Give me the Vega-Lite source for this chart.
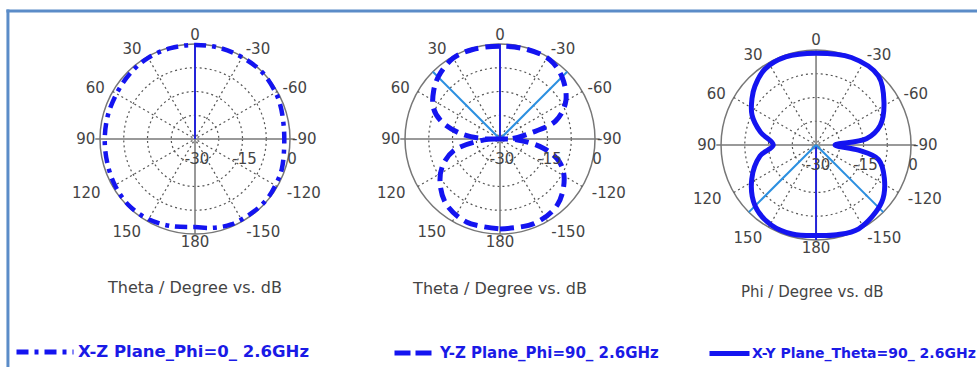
{
  "$schema": "https://vega.github.io/schema/vega-lite/v6.json",
  "background": "white",
  "padding": {"left": 4, "top": 7, "right": 0, "bottom": 0},
  "autosize": {"type": "pad"},
  "bounds": "flush",
  "spacing": 81,
  "datasets": {
    "rings": [{"r": 0.25}, {"r": 0.5}, {"r": 0.75}],
    "outer": [{"r": 1}],
    "spokes": [{"ang": 30}, {"ang": 60}, {"ang": 120}, {"ang": 150}, {"ang": -30}, {"ang": -60}, {"ang": -120}, {"ang": -150}],
    "rays1": [{"ang": 90, "len": 1.05, "kind": "axis"}, {"ang": -90, "len": 1.05, "kind": "axis"}, {"ang": 180, "len": 1, "kind": "axis"}, {"ang": 0, "len": 1, "kind": "main"}],
    "rays2": [{"ang": 90, "len": 1.05, "kind": "axis"}, {"ang": -90, "len": 1.05, "kind": "axis"}, {"ang": 180, "len": 1, "kind": "axis"}, {"ang": 0, "len": 1, "kind": "main"}, {"ang": 45, "len": 1, "kind": "beam"}, {"ang": -45, "len": 1, "kind": "beam"}],
    "rays3": [{"ang": 90, "len": 1.05, "kind": "axis"}, {"ang": -90, "len": 1.05, "kind": "axis"}, {"ang": 0, "len": 1, "kind": "axis"}, {"ang": 180, "len": 1, "kind": "main"}, {"ang": 135, "len": 1, "kind": "beam"}, {"ang": -135, "len": 1, "kind": "beam"}],
    "alabels": [
      {"ang": 0, "t": "0"}, {"ang": 30, "t": "30"}, {"ang": 60, "t": "60"}, {"ang": 90, "t": "90"},
      {"ang": 120, "t": "120"}, {"ang": 150, "t": "150"}, {"ang": 180, "t": "180"},
      {"ang": -30, "t": "-30"}, {"ang": -60, "t": "-60"}, {"ang": -90, "t": "-90"},
      {"ang": -120, "t": "-120"}, {"ang": -150, "t": "-150"}
    ],
    "rlabels": [{"db": -30, "t": "-30"}, {"db": -15, "t": "-15"}, {"db": 0, "t": "0"}],
    "xz": [
      {"ang": -180, "db": -2.2}, {"ang": -170, "db": -1.5}, {"ang": -157, "db": -0.7}, {"ang": -140, "db": -0.5},
      {"ang": -130, "db": -0.4}, {"ang": -120, "db": -0.7}, {"ang": -109, "db": -1.0}, {"ang": -90, "db": -1.8},
      {"ang": -75, "db": -1.4}, {"ang": -68, "db": -1.0}, {"ang": -60, "db": -0.6}, {"ang": -45, "db": -0.1},
      {"ang": -30, "db": -0.2}, {"ang": -15, "db": -0.2}, {"ang": 0, "db": -0.3}, {"ang": 15, "db": -0.3},
      {"ang": 30, "db": -0.4}, {"ang": 45, "db": -0.9}, {"ang": 60, "db": -1.4}, {"ang": 75, "db": -1.5},
      {"ang": 90, "db": -1.5}, {"ang": 105, "db": -1.3}, {"ang": 120, "db": -0.8}, {"ang": 135, "db": -0.4},
      {"ang": 150, "db": -0.7}, {"ang": 165, "db": -1.5}, {"ang": 180, "db": -2.2}
    ],
    "yz": [
      {"ang": -180, "db": -1.6}, {"ang": -158, "db": -1.2}, {"ang": -139, "db": -2.4}, {"ang": -122, "db": -6.1},
      {"ang": -111, "db": -9.9}, {"ang": -102, "db": -16}, {"ang": -93, "db": -24.4}, {"ang": -90, "db": -30},
      {"ang": -89, "db": -26.5}, {"ang": -79, "db": -20.2}, {"ang": -72, "db": -11.5}, {"ang": -60, "db": -6},
      {"ang": -45, "db": -2.3}, {"ang": -32, "db": -0.45}, {"ang": -17, "db": -0.45}, {"ang": 0, "db": -0.7},
      {"ang": 17, "db": -0.45}, {"ang": 30, "db": -0.5}, {"ang": 44, "db": -2.2}, {"ang": 54, "db": -4.1},
      {"ang": 65, "db": -6.8}, {"ang": 73, "db": -10.5}, {"ang": 82, "db": -17.3}, {"ang": 89, "db": -24.5},
      {"ang": 90, "db": -30}, {"ang": 93, "db": -25}, {"ang": 104, "db": -15}, {"ang": 115, "db": -10},
      {"ang": 126, "db": -6.6}, {"ang": 140, "db": -3.4}, {"ang": 158, "db": -1.7}, {"ang": 180, "db": -1.6}
    ],
    "xy": [
      {"ang": -180, "db": -1.4}, {"ang": -167, "db": -0.9}, {"ang": -153, "db": -0.3}, {"ang": -131, "db": -2.5},
      {"ang": -116, "db": -6}, {"ang": -103, "db": -9.8}, {"ang": -97, "db": -16.5}, {"ang": -90, "db": -24},
      {"ang": -83, "db": -14}, {"ang": -73, "db": -8.8}, {"ang": -58, "db": -4.7}, {"ang": -42, "db": -0.6},
      {"ang": -22, "db": -0.2}, {"ang": 0, "db": -1.0}, {"ang": 19, "db": -0.6}, {"ang": 34, "db": -1.1},
      {"ang": 46, "db": -3.2}, {"ang": 54, "db": -5}, {"ang": 65, "db": -7.7}, {"ang": 77, "db": -12},
      {"ang": 90, "db": -16.5}, {"ang": 101, "db": -12}, {"ang": 118, "db": -7}, {"ang": 135, "db": -2.8},
      {"ang": 151, "db": -1.0}, {"ang": 165, "db": -0.9}, {"ang": 180, "db": -1.4}
    ],
    "one": [{}]
  },
  "hconcat": [
    {
      "width": 228, "height": 228,
      "layer": [
        {"data": {"name": "rings"},
         "mark": {"type": "point", "shape": "circle", "filled": false, "opacity": 1, "stroke": "#555", "strokeWidth": 1.2, "strokeDash": [2, 3]},
         "encoding": {
           "x": {"datum": 0, "type": "quantitative", "scale": {"domain": [-1.2, 1.2], "nice": false, "zero": false}, "axis": null},
           "y": {"datum": 0, "type": "quantitative", "scale": {"domain": [-1.2, 1.2], "nice": false, "zero": false}, "axis": null},
           "size": {"field": "r", "type": "quantitative", "scale": {"type": "pow", "exponent": 2, "domain": [0, 1], "range": [0, 36100], "zero": true, "nice": false}, "legend": null}}},
        {"data": {"name": "outer"},
         "mark": {"type": "point", "shape": "circle", "filled": false, "opacity": 1, "stroke": "#777", "strokeWidth": 1.5},
         "encoding": {
           "x": {"datum": 0, "type": "quantitative", "axis": null},
           "y": {"datum": 0, "type": "quantitative", "axis": null},
           "size": {"field": "r", "type": "quantitative", "scale": {"type": "pow", "exponent": 2, "domain": [0, 1], "range": [0, 36100], "zero": true, "nice": false}, "legend": null}}},
        {"data": {"name": "spokes"},
         "transform": [{"calculate": "-sin(datum.ang*PI/180)", "as": "x"}, {"calculate": "cos(datum.ang*PI/180)", "as": "y"}, {"calculate": "0", "as": "c"}],
         "mark": {"type": "rule", "stroke": "#555", "strokeWidth": 1.2, "strokeDash": [2, 3]},
         "encoding": {
           "x": {"field": "x", "type": "quantitative", "axis": null},
           "y": {"field": "y", "type": "quantitative", "axis": null},
           "x2": {"field": "c"}, "y2": {"field": "c"}}},
        {"data": {"name": "rays1"},
         "transform": [{"filter": "datum.kind == 'axis'"}, {"calculate": "-sin(datum.ang*PI/180)*datum.len", "as": "x"}, {"calculate": "cos(datum.ang*PI/180)*datum.len", "as": "y"}, {"calculate": "0", "as": "c"}],
         "mark": {"type": "rule", "stroke": "#777", "strokeWidth": 1.5},
         "encoding": {
           "x": {"field": "x", "type": "quantitative", "axis": null},
           "y": {"field": "y", "type": "quantitative", "axis": null},
           "x2": {"field": "c"}, "y2": {"field": "c"}}},
        {"data": {"name": "rays1"},
         "transform": [{"filter": "datum.kind == 'main'"}, {"calculate": "-sin(datum.ang*PI/180)*datum.len", "as": "x"}, {"calculate": "cos(datum.ang*PI/180)*datum.len", "as": "y"}, {"calculate": "0", "as": "c"}],
         "mark": {"type": "rule", "stroke": "#2424d8", "strokeWidth": 2},
         "encoding": {
           "x": {"field": "x", "type": "quantitative", "axis": null},
           "y": {"field": "y", "type": "quantitative", "axis": null},
           "x2": {"field": "c"}, "y2": {"field": "c"}}},
        {"data": {"name": "xz"},
         "transform": [{"calculate": "-sin(datum.ang*PI/180)*(datum.db+30)/30", "as": "x"}, {"calculate": "cos(datum.ang*PI/180)*(datum.db+30)/30", "as": "y"}, {"calculate": "'X-Z Plane_Phi=0_ 2.6GHz'", "as": "series"}],
         "mark": {"type": "line", "strokeWidth": 4.5, "strokeDash": [12, 6, 4, 6], "interpolate": "catmull-rom"},
         "encoding": {
           "x": {"field": "x", "type": "quantitative", "axis": null},
           "y": {"field": "y", "type": "quantitative", "axis": null},
           "order": {"field": "ang", "type": "quantitative"},
           "color": {"field": "series", "type": "nominal", "scale": {"range": ["#1414f0"]},
             "legend": {"title": null, "orient": "none", "legendX": -67, "legendY": 296, "symbolType": "stroke", "symbolSize": 3249, "symbolStrokeWidth": 5, "symbolDash": [12, 6, 4, 6], "labelFont": "DejaVu Sans", "labelFontSize": 16.5, "labelFontWeight": "bold", "labelColor": "#1a1ae6", "labelLimit": 400, "labelOffset": 2}}}},
        {"data": {"name": "alabels"},
         "transform": [
           {"calculate": "sin(datum.ang*PI/180)", "as": "s"},
           {"calculate": "cos(datum.ang*PI/180)", "as": "c"},
           {"calculate": "1.1+0.05*abs(datum.s)", "as": "rl"},
           {"calculate": "(abs(datum.s) > 0.1 && abs(datum.s) < 0.95) ? (datum.c < -0.1 ? 0.155 : (datum.c > 0.7 ? 0.1 : 0.06)) : 0", "as": "ex"},
           {"calculate": "-(datum.s*datum.rl + (datum.s > 0 ? datum.ex : -datum.ex))", "as": "x"},
           {"calculate": "datum.c*datum.rl - ((datum.c > 0.3 && abs(datum.s) > 0.1) ? 0.03 : 0) + (datum.c < -0.95 ? 0.02 : 0)", "as": "y"}],
         "mark": {"type": "text", "font": "DejaVu Sans", "fontSize": 15, "fill": "#444", "align": "center", "baseline": "middle"},
         "encoding": {
           "x": {"field": "x", "type": "quantitative", "axis": null},
           "y": {"field": "y", "type": "quantitative", "axis": null},
           "text": {"field": "t"}}},
        {"data": {"name": "rlabels"},
         "transform": [{"calculate": "(datum.db+30)/30", "as": "x"}, {"calculate": "0", "as": "y"}],
         "mark": {"type": "text", "font": "DejaVu Sans", "fontSize": 15, "fill": "#444", "align": "center", "baseline": "middle", "dy": 20, "dx": 2},
         "encoding": {
           "x": {"field": "x", "type": "quantitative", "axis": null},
           "y": {"field": "y", "type": "quantitative", "axis": null},
           "text": {"field": "t"}}},
        {"data": {"values": [{"t": "Theta / Degree vs. dB", "x": 0, "y": -1.568}]},
         "mark": {"type": "text", "font": "DejaVu Sans", "fontSize": 16, "fill": "#444", "align": "center", "baseline": "middle"},
         "encoding": {
           "x": {"field": "x", "type": "quantitative", "axis": null},
           "y": {"field": "y", "type": "quantitative", "axis": null},
           "text": {"field": "t"}}},
        {"data": {"name": "one"},
         "transform": [{"calculate": "-1.985", "as": "x"}, {"calculate": "8.242", "as": "x2"}, {"calculate": "1.348", "as": "y"}, {"calculate": "1.348", "as": "y2"}],
         "mark": {"type": "rule", "stroke": "#5b8cc8", "strokeWidth": 3},
         "encoding": {
           "x": {"field": "x", "type": "quantitative", "axis": null},
           "y": {"field": "y", "type": "quantitative", "axis": null},
           "x2": {"field": "x2"}, "y2": {"field": "y2"}}},
        {"data": {"name": "one"},
         "transform": [{"calculate": "-1.969", "as": "x"}, {"calculate": "-1.969", "as": "x2"}, {"calculate": "1.364", "as": "y"}, {"calculate": "-2.411", "as": "y2"}],
         "mark": {"type": "rule", "stroke": "#5b8cc8", "strokeWidth": 3},
         "encoding": {
           "x": {"field": "x", "type": "quantitative", "axis": null},
           "y": {"field": "y", "type": "quantitative", "axis": null},
           "x2": {"field": "x2"}, "y2": {"field": "y2"}}}
      ]
    },
    {
      "width": 228, "height": 228,
      "layer": [
        {"data": {"name": "rings"},
         "mark": {"type": "point", "shape": "circle", "filled": false, "opacity": 1, "stroke": "#555", "strokeWidth": 1.2, "strokeDash": [2, 3]},
         "encoding": {
           "x": {"datum": 0, "type": "quantitative", "scale": {"domain": [-1.158, 1.242], "nice": false, "zero": false}, "axis": null},
           "y": {"datum": 0, "type": "quantitative", "scale": {"domain": [-1.2, 1.2], "nice": false, "zero": false}, "axis": null},
           "size": {"field": "r", "type": "quantitative", "scale": {"type": "pow", "exponent": 2, "domain": [0, 1], "range": [0, 36100], "zero": true, "nice": false}, "legend": null}}},
        {"data": {"name": "outer"},
         "mark": {"type": "point", "shape": "circle", "filled": false, "opacity": 1, "stroke": "#777", "strokeWidth": 1.5},
         "encoding": {
           "x": {"datum": 0, "type": "quantitative", "axis": null},
           "y": {"datum": 0, "type": "quantitative", "axis": null},
           "size": {"field": "r", "type": "quantitative", "scale": {"type": "pow", "exponent": 2, "domain": [0, 1], "range": [0, 36100], "zero": true, "nice": false}, "legend": null}}},
        {"data": {"name": "spokes"},
         "transform": [{"calculate": "-sin(datum.ang*PI/180)", "as": "x"}, {"calculate": "cos(datum.ang*PI/180)", "as": "y"}, {"calculate": "0", "as": "c"}],
         "mark": {"type": "rule", "stroke": "#555", "strokeWidth": 1.2, "strokeDash": [2, 3]},
         "encoding": {
           "x": {"field": "x", "type": "quantitative", "axis": null},
           "y": {"field": "y", "type": "quantitative", "axis": null},
           "x2": {"field": "c"}, "y2": {"field": "c"}}},
        {"data": {"name": "rays2"},
         "transform": [{"filter": "datum.kind == 'axis'"}, {"calculate": "-sin(datum.ang*PI/180)*datum.len", "as": "x"}, {"calculate": "cos(datum.ang*PI/180)*datum.len", "as": "y"}, {"calculate": "0", "as": "c"}],
         "mark": {"type": "rule", "stroke": "#777", "strokeWidth": 1.5},
         "encoding": {
           "x": {"field": "x", "type": "quantitative", "axis": null},
           "y": {"field": "y", "type": "quantitative", "axis": null},
           "x2": {"field": "c"}, "y2": {"field": "c"}}},
        {"data": {"name": "rays2"},
         "transform": [{"filter": "datum.kind == 'main'"}, {"calculate": "-sin(datum.ang*PI/180)*datum.len", "as": "x"}, {"calculate": "cos(datum.ang*PI/180)*datum.len", "as": "y"}, {"calculate": "0", "as": "c"}],
         "mark": {"type": "rule", "stroke": "#2424d8", "strokeWidth": 2},
         "encoding": {
           "x": {"field": "x", "type": "quantitative", "axis": null},
           "y": {"field": "y", "type": "quantitative", "axis": null},
           "x2": {"field": "c"}, "y2": {"field": "c"}}},
        {"data": {"name": "rays2"},
         "transform": [{"filter": "datum.kind == 'beam'"}, {"calculate": "-sin(datum.ang*PI/180)*datum.len", "as": "x"}, {"calculate": "cos(datum.ang*PI/180)*datum.len", "as": "y"}, {"calculate": "0", "as": "c"}],
         "mark": {"type": "rule", "stroke": "#2b8fe0", "strokeWidth": 2},
         "encoding": {
           "x": {"field": "x", "type": "quantitative", "axis": null},
           "y": {"field": "y", "type": "quantitative", "axis": null},
           "x2": {"field": "c"}, "y2": {"field": "c"}}},
        {"data": {"name": "yz"},
         "transform": [{"calculate": "-sin(datum.ang*PI/180)*(datum.db+30)/30", "as": "x"}, {"calculate": "cos(datum.ang*PI/180)*(datum.db+30)/30", "as": "y"}, {"calculate": "'Y-Z Plane_Phi=90_ 2.6GHz'", "as": "series"}],
         "mark": {"type": "line", "strokeWidth": 5, "strokeDash": [14, 7], "interpolate": "catmull-rom"},
         "encoding": {
           "x": {"field": "x", "type": "quantitative", "axis": null},
           "y": {"field": "y", "type": "quantitative", "axis": null},
           "order": {"field": "ang", "type": "quantitative"},
           "color": {"field": "series", "type": "nominal", "scale": {"range": ["#1414f0"]},
             "legend": {"title": null, "orient": "none", "legendX": 2, "legendY": 307, "symbolType": "stroke", "symbolSize": 1369, "symbolStrokeWidth": 5, "symbolDash": [16, 5], "labelFont": "DejaVu Sans", "labelFontSize": 15, "labelFontWeight": "bold", "labelColor": "#1a1ae6", "labelLimit": 400, "labelOffset": 6}}}},
        {"data": {"name": "alabels"},
         "transform": [
           {"calculate": "sin(datum.ang*PI/180)", "as": "s"},
           {"calculate": "cos(datum.ang*PI/180)", "as": "c"},
           {"calculate": "1.1+0.05*abs(datum.s)", "as": "rl"},
           {"calculate": "(abs(datum.s) > 0.1 && abs(datum.s) < 0.95) ? (datum.c < -0.1 ? 0.155 : (datum.c > 0.7 ? 0.1 : 0.06)) : 0", "as": "ex"},
           {"calculate": "-(datum.s*datum.rl + (datum.s > 0 ? datum.ex : -datum.ex))", "as": "x"},
           {"calculate": "datum.c*datum.rl - ((datum.c > 0.3 && abs(datum.s) > 0.1) ? 0.03 : 0) + (datum.c < -0.95 ? 0.02 : 0)", "as": "y"}],
         "mark": {"type": "text", "font": "DejaVu Sans", "fontSize": 15, "fill": "#444", "align": "center", "baseline": "middle"},
         "encoding": {
           "x": {"field": "x", "type": "quantitative", "axis": null},
           "y": {"field": "y", "type": "quantitative", "axis": null},
           "text": {"field": "t"}}},
        {"data": {"name": "rlabels"},
         "transform": [{"calculate": "(datum.db+30)/30", "as": "x"}, {"calculate": "0", "as": "y"}],
         "mark": {"type": "text", "font": "DejaVu Sans", "fontSize": 15, "fill": "#444", "align": "center", "baseline": "middle", "dy": 20, "dx": 2},
         "encoding": {
           "x": {"field": "x", "type": "quantitative", "axis": null},
           "y": {"field": "y", "type": "quantitative", "axis": null},
           "text": {"field": "t"}}},
        {"data": {"values": [{"t": "Theta / Degree vs. dB", "x": 0, "y": -1.579}]},
         "mark": {"type": "text", "font": "DejaVu Sans", "fontSize": 16, "fill": "#444", "align": "center", "baseline": "middle"},
         "encoding": {
           "x": {"field": "x", "type": "quantitative", "axis": null},
           "y": {"field": "y", "type": "quantitative", "axis": null},
           "text": {"field": "t"}}}
      ]
    },
    {
      "width": 228, "height": 228,
      "layer": [
        {"data": {"name": "rings"},
         "mark": {"type": "point", "shape": "circle", "filled": false, "opacity": 1, "stroke": "#555", "strokeWidth": 1.2, "strokeDash": [2, 3]},
         "encoding": {
           "x": {"datum": 0, "type": "quantitative", "scale": {"domain": [-1.232, 1.168], "nice": false, "zero": false}, "axis": null},
           "y": {"datum": 0, "type": "quantitative", "scale": {"domain": [-1.137, 1.263], "nice": false, "zero": false}, "axis": null},
           "size": {"field": "r", "type": "quantitative", "scale": {"type": "pow", "exponent": 2, "domain": [0, 1], "range": [0, 36100], "zero": true, "nice": false}, "legend": null}}},
        {"data": {"name": "outer"},
         "mark": {"type": "point", "shape": "circle", "filled": false, "opacity": 1, "stroke": "#777", "strokeWidth": 1.5},
         "encoding": {
           "x": {"datum": 0, "type": "quantitative", "axis": null},
           "y": {"datum": 0, "type": "quantitative", "axis": null},
           "size": {"field": "r", "type": "quantitative", "scale": {"type": "pow", "exponent": 2, "domain": [0, 1], "range": [0, 36100], "zero": true, "nice": false}, "legend": null}}},
        {"data": {"name": "spokes"},
         "transform": [{"calculate": "-sin(datum.ang*PI/180)", "as": "x"}, {"calculate": "cos(datum.ang*PI/180)", "as": "y"}, {"calculate": "0", "as": "c"}],
         "mark": {"type": "rule", "stroke": "#555", "strokeWidth": 1.2, "strokeDash": [2, 3]},
         "encoding": {
           "x": {"field": "x", "type": "quantitative", "axis": null},
           "y": {"field": "y", "type": "quantitative", "axis": null},
           "x2": {"field": "c"}, "y2": {"field": "c"}}},
        {"data": {"name": "rays3"},
         "transform": [{"filter": "datum.kind == 'axis'"}, {"calculate": "-sin(datum.ang*PI/180)*datum.len", "as": "x"}, {"calculate": "cos(datum.ang*PI/180)*datum.len", "as": "y"}, {"calculate": "0", "as": "c"}],
         "mark": {"type": "rule", "stroke": "#777", "strokeWidth": 1.5},
         "encoding": {
           "x": {"field": "x", "type": "quantitative", "axis": null},
           "y": {"field": "y", "type": "quantitative", "axis": null},
           "x2": {"field": "c"}, "y2": {"field": "c"}}},
        {"data": {"name": "rays3"},
         "transform": [{"filter": "datum.kind == 'main'"}, {"calculate": "-sin(datum.ang*PI/180)*datum.len", "as": "x"}, {"calculate": "cos(datum.ang*PI/180)*datum.len", "as": "y"}, {"calculate": "0", "as": "c"}],
         "mark": {"type": "rule", "stroke": "#2424d8", "strokeWidth": 2},
         "encoding": {
           "x": {"field": "x", "type": "quantitative", "axis": null},
           "y": {"field": "y", "type": "quantitative", "axis": null},
           "x2": {"field": "c"}, "y2": {"field": "c"}}},
        {"data": {"name": "rays3"},
         "transform": [{"filter": "datum.kind == 'beam'"}, {"calculate": "-sin(datum.ang*PI/180)*datum.len", "as": "x"}, {"calculate": "cos(datum.ang*PI/180)*datum.len", "as": "y"}, {"calculate": "0", "as": "c"}],
         "mark": {"type": "rule", "stroke": "#2b8fe0", "strokeWidth": 2},
         "encoding": {
           "x": {"field": "x", "type": "quantitative", "axis": null},
           "y": {"field": "y", "type": "quantitative", "axis": null},
           "x2": {"field": "c"}, "y2": {"field": "c"}}},
        {"data": {"name": "xy"},
         "transform": [{"calculate": "-sin(datum.ang*PI/180)*(datum.db+30)/30", "as": "x"}, {"calculate": "cos(datum.ang*PI/180)*(datum.db+30)/30", "as": "y"}, {"calculate": "'X-Y Plane_Theta=90_ 2.6GHz'", "as": "series"}],
         "mark": {"type": "line", "strokeWidth": 5, "interpolate": "catmull-rom"},
         "encoding": {
           "x": {"field": "x", "type": "quantitative", "axis": null},
           "y": {"field": "y", "type": "quantitative", "axis": null},
           "order": {"field": "ang", "type": "quantitative"},
           "color": {"field": "series", "type": "nominal", "scale": {"range": ["#1414f0"]},
             "legend": {"title": null, "orient": "none", "legendX": 8, "legendY": 306, "symbolType": "stroke", "symbolSize": 1600, "symbolStrokeWidth": 5, "labelFont": "DejaVu Sans", "labelFontSize": 14, "labelFontWeight": "bold", "labelColor": "#1a1ae6", "labelLimit": 240, "labelOffset": 0}}}},
        {"data": {"name": "alabels"},
         "transform": [
           {"calculate": "sin(datum.ang*PI/180)", "as": "s"},
           {"calculate": "cos(datum.ang*PI/180)", "as": "c"},
           {"calculate": "1.1+0.05*abs(datum.s)", "as": "rl"},
           {"calculate": "(abs(datum.s) > 0.1 && abs(datum.s) < 0.95) ? (datum.c < -0.1 ? 0.155 : (datum.c > 0.7 ? 0.1 : 0.06)) : 0", "as": "ex"},
           {"calculate": "-(datum.s*datum.rl + (datum.s > 0 ? datum.ex : -datum.ex))", "as": "x"},
           {"calculate": "datum.c*datum.rl - ((datum.c > 0.3 && abs(datum.s) > 0.1) ? 0.03 : 0) + (datum.c < -0.95 ? 0.02 : 0)", "as": "y"}],
         "mark": {"type": "text", "font": "DejaVu Sans", "fontSize": 15, "fill": "#444", "align": "center", "baseline": "middle"},
         "encoding": {
           "x": {"field": "x", "type": "quantitative", "axis": null},
           "y": {"field": "y", "type": "quantitative", "axis": null},
           "text": {"field": "t"}}},
        {"data": {"name": "rlabels"},
         "transform": [{"calculate": "(datum.db+30)/30", "as": "x"}, {"calculate": "0", "as": "y"}],
         "mark": {"type": "text", "font": "DejaVu Sans", "fontSize": 15, "fill": "#444", "align": "center", "baseline": "middle", "dy": 20, "dx": 2},
         "encoding": {
           "x": {"field": "x", "type": "quantitative", "axis": null},
           "y": {"field": "y", "type": "quantitative", "axis": null},
           "text": {"field": "t"}}},
        {"data": {"values": [{"t": "Phi / Degree vs. dB", "x": -0.04, "y": -1.547}]},
         "mark": {"type": "text", "font": "DejaVu Sans", "fontSize": 15, "fill": "#444", "align": "center", "baseline": "middle"},
         "encoding": {
           "x": {"field": "x", "type": "quantitative", "axis": null},
           "y": {"field": "y", "type": "quantitative", "axis": null},
           "text": {"field": "t"}}}
      ]
    }
  ],
  "resolve": {"scale": {"color": "independent"}, "legend": {"color": "independent"}},
  "config": {"view": {"stroke": null}}
}
